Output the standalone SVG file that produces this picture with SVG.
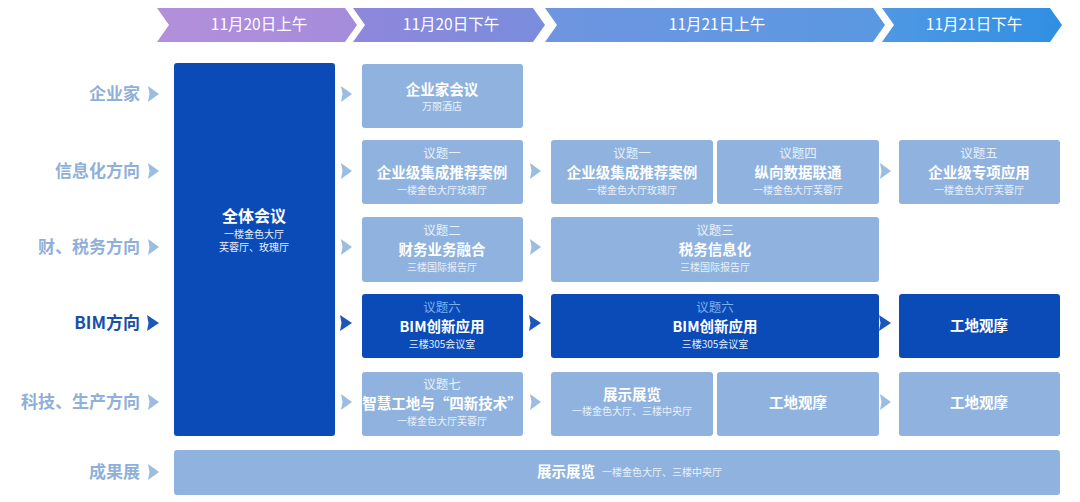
<svg xmlns="http://www.w3.org/2000/svg" width="1080" height="502" viewBox="0 0 1080 502">
<defs>
<linearGradient id="g1" x1="0" x2="1"><stop offset="0" stop-color="#b38fda"/><stop offset="1" stop-color="#a48cdc"/></linearGradient>
<linearGradient id="g2" x1="0" x2="1"><stop offset="0" stop-color="#8f87dc"/><stop offset="1" stop-color="#7a8ddd"/></linearGradient>
<linearGradient id="g3" x1="0" x2="1"><stop offset="0" stop-color="#6f95e0"/><stop offset="1" stop-color="#5a98e2"/></linearGradient>
<linearGradient id="g4" x1="0" x2="1"><stop offset="0" stop-color="#4f98e4"/><stop offset="1" stop-color="#2f8fe2"/></linearGradient>
<g id="arr"><path d="M0,-8 L11,0 L0,8 L1.5,0 Z" fill="#9dbce2"/></g>
<g id="arrd"><path d="M0,-8 L12,0 L0,8 L1.5,0 Z" fill="#1e55b8"/></g>
</defs>
<style>
.l{fill:#8fb3de}.d{fill:#0b4bb7}
text{font-family:"Noto Sans CJK SC","Liberation Sans",sans-serif;text-anchor:middle;fill:#fff}
.h{font-size:15.5px}
.t{font-size:14.5px;font-weight:bold}
.s{font-size:12.5px;fill:#e8f0fb}
.p{font-size:10px;fill:#e8f0fb}
.dp{font-size:12.5px;fill:#7ab0f2}
.r{font-size:17px;font-weight:bold;fill:#8fb0d8;text-anchor:end}
</style>
<rect width="1080" height="502" fill="#fff"/>
<g id="header">
<path d="M157,8 H345 L357,25 L345,42 H157 L169,25 Z" fill="url(#g1)"/>
<path d="M353,8 H533 L545,25 L533,42 H353 L365,25 Z" fill="url(#g2)"/>
<path d="M545,8 H873 L885,25 L873,42 H545 L557,25 Z" fill="url(#g3)"/>
<path d="M882,8 H1050 L1062,25 L1050,42 H882 L894,25 Z" fill="url(#g4)"/>
<text class="h" x="259" y="30">11月20日上午</text>
<text class="h" x="451" y="30">11月20日下午</text>
<text class="h" x="717" y="30">11月21日上午</text>
<text class="h" x="974" y="30">11月21日下午</text>
</g>
<g id="rows">
<text class="r" x="140" y="100">企业家</text>
<text class="r" x="140" y="177">信息化方向</text>
<text class="r" x="140" y="253">财、税务方向</text>
<text class="r" x="140" y="329" style="fill:#1a4fa8">BIM方向</text>
<text class="r" x="140" y="408">科技、生产方向</text>
<text class="r" x="140" y="478">成果展</text>
<use href="#arr" x="148" y="94"/><use href="#arr" x="148" y="171"/><use href="#arr" x="148" y="247"/>
<use href="#arrd" x="147" y="323"/><use href="#arr" x="148" y="402"/><use href="#arr" x="148" y="472"/>
</g>
<g id="connectors">
<use href="#arr" x="341" y="94"/><use href="#arr" x="341" y="171"/><use href="#arr" x="341" y="247"/>
<use href="#arrd" x="340" y="323"/><use href="#arr" x="341" y="402"/>
<use href="#arr" x="530" y="171"/><use href="#arr" x="530" y="247"/><use href="#arrd" x="529" y="323"/><use href="#arr" x="530" y="402"/>
<use href="#arr" x="880" y="171"/><use href="#arrd" x="879" y="323"/><use href="#arr" x="880" y="402"/>
</g>
<g id="n-all"><rect class="d" x="174" y="63" width="161" height="373" rx="3"/>
<text class="t" x="254" y="222" style="font-size:16px">全体会议</text><text class="p" x="254" y="238">一楼金色大厅</text><text class="p" x="254" y="251">芙蓉厅、玫瑰厅</text></g>
<g id="n1"><rect class="l" x="362" y="64" width="161" height="64" rx="3"/>
<text class="t" x="442" y="95">企业家会议</text><text class="p" x="442" y="110">万丽酒店</text></g>
<g id="n2"><rect class="l" x="362" y="140" width="161" height="64" rx="3"/>
<text class="s" x="442" y="158">议题一</text><text class="t" x="442" y="178">企业级集成推荐案例</text><text class="p" x="442" y="194">一楼金色大厅玫瑰厅</text></g>
<g id="n3"><rect class="l" x="551" y="140" width="162" height="64" rx="3"/>
<text class="s" x="632" y="158">议题一</text><text class="t" x="632" y="178">企业级集成推荐案例</text><text class="p" x="632" y="194">一楼金色大厅玫瑰厅</text></g>
<g id="n4"><rect class="l" x="717" y="140" width="162" height="64" rx="3"/>
<text class="s" x="798" y="158">议题四</text><text class="t" x="798" y="178">纵向数据联通</text><text class="p" x="798" y="194">一楼金色大厅芙蓉厅</text></g>
<g id="n5"><rect class="l" x="899" y="140" width="161" height="64" rx="3"/>
<text class="s" x="979" y="158">议题五</text><text class="t" x="979" y="178">企业级专项应用</text><text class="p" x="979" y="194">一楼金色大厅芙蓉厅</text></g>
<g id="n6"><rect class="l" x="362" y="217" width="161" height="65" rx="3"/>
<text class="s" x="442" y="235">议题二</text><text class="t" x="442" y="255">财务业务融合</text><text class="p" x="442" y="271">三楼国际报告厅</text></g>
<g id="n7"><rect class="l" x="551" y="217" width="328" height="65" rx="3"/>
<text class="s" x="715" y="235">议题三</text><text class="t" x="715" y="255">税务信息化</text><text class="p" x="715" y="271">三楼国际报告厅</text></g>
<g id="n8"><rect class="d" x="362" y="294" width="161" height="64" rx="3"/>
<text class="dp" x="442" y="312">议题六</text><text class="t" x="442" y="332">BIM创新应用</text><text class="p" x="442" y="348">三楼305会议室</text></g>
<g id="n9"><rect class="d" x="551" y="294" width="328" height="64" rx="3"/>
<text class="dp" x="715" y="312">议题六</text><text class="t" x="715" y="332">BIM创新应用</text><text class="p" x="715" y="348">三楼305会议室</text></g>
<g id="n10"><rect class="d" x="899" y="294" width="161" height="64" rx="3"/>
<text class="t" x="979" y="331">工地观摩</text></g>
<g id="n11"><rect class="l" x="362" y="372" width="161" height="64" rx="3"/>
<text class="s" x="442" y="389">议题七</text><text class="t" x="442" y="409">智慧工地与“四新技术”</text><text class="p" x="442" y="425">一楼金色大厅芙蓉厅</text></g>
<g id="n12"><rect class="l" x="551" y="372" width="162" height="64" rx="3"/>
<text class="t" x="632" y="400">展示展览</text><text class="p" x="632" y="415">一楼金色大厅、三楼中央厅</text></g>
<g id="n13"><rect class="l" x="717" y="372" width="162" height="64" rx="3"/>
<text class="t" x="798" y="408">工地观摩</text></g>
<g id="n14"><rect class="l" x="899" y="372" width="161" height="64" rx="3"/>
<text class="t" x="979" y="408">工地观摩</text></g>
<g id="n15"><rect class="l" x="174" y="450" width="886" height="45" rx="3"/>
<text class="t" x="566" y="477">展示展览</text><text class="p" x="662" y="476">一楼金色大厅、三楼中央厅</text></g>
</svg>
